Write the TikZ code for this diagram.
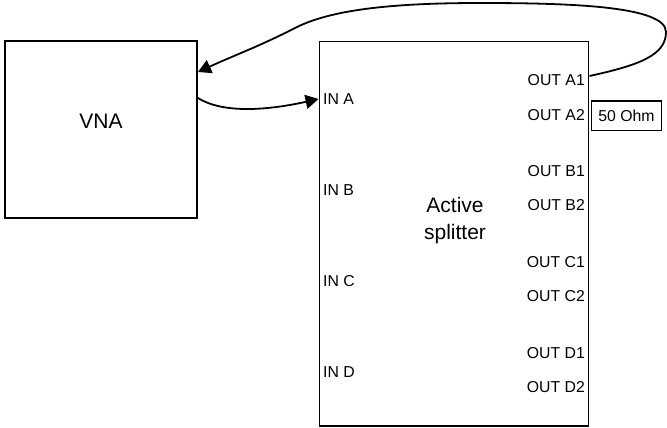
\documentclass[tikz,border=0pt]{standalone}
\usepackage{fontspec}
\setmainfont{Liberation Sans}
\usetikzlibrary{arrows.meta}
\begin{document}
\begin{tikzpicture}[x=1pt,y=-1pt,
  box/.style={draw,line width=1.9pt,inner sep=0pt},
  lbl/.style={font=\fontsize{15.8}{19}\selectfont,inner sep=0pt},
  big/.style={font=\fontsize{21}{27}\selectfont,align=center,inner sep=0pt},
  conn/.style={line width=1.8pt,-{Triangle[length=13pt,width=14pt]}}]
\useasboundingbox (0,0) rectangle (667,428);
% boxes
\node[box,minimum width=192pt,minimum height=177pt] (vna) at (101,129.5) {};
\node[big] (vnalabel) at (101,121) {VNA};
\node[box,minimum width=269pt,minimum height=384.5pt] (splitter) at (454,233.75) {};
\node[big] (splitlabel) at (455,221) {Active\\splitter};
% input labels
\node[lbl,anchor=west] (ina) at (323,99) {IN A};
\node[lbl,anchor=west] (inb) at (323,190) {IN B};
\node[lbl,anchor=west] (inc) at (323,281) {IN C};
\node[lbl,anchor=west] (ind) at (323,372) {IN D};
% output labels
\node[lbl,anchor=east] (outa1) at (585,80) {OUT A1};
\node[lbl,anchor=east] (outa2) at (585,115) {OUT A2};
\node[lbl,anchor=east] (outb1) at (585,171) {OUT B1};
\node[lbl,anchor=east] (outb2) at (585,205) {OUT B2};
\node[lbl,anchor=east] (outc1) at (585,262) {OUT C1};
\node[lbl,anchor=east] (outc2) at (585,296) {OUT C2};
\node[lbl,anchor=east] (outd1) at (585,353) {OUT D1};
\node[lbl,anchor=east] (outd2) at (585,387) {OUT D2};
% termination
\node[box,line width=1.6pt,minimum width=70pt,minimum height=29.5pt,font=\fontsize{15.8}{19}\selectfont] (term) at (626.5,115.75) {50 Ohm};
% ports
\coordinate (a1port) at (splitter.east |- 0,76);
\coordinate (vnain) at (vna.east |- 0,72);
\coordinate (vnaout) at (vna.east |- 0,98);
\coordinate (inaport) at (splitter.west |- ina.west);
% connectors
\draw[conn] (a1port) .. controls (640,65) and (666,55) .. (666,32)
  .. controls (666,6) and (570,3) .. (480,3)
  .. controls (390,3) and (330,10) .. (295,28)
  .. controls (260,46) and (235,55) .. (vnain);
\draw[conn] (vnaout) .. controls (220,112) and (260,112) .. (inaport);
\end{tikzpicture}
\end{document}
